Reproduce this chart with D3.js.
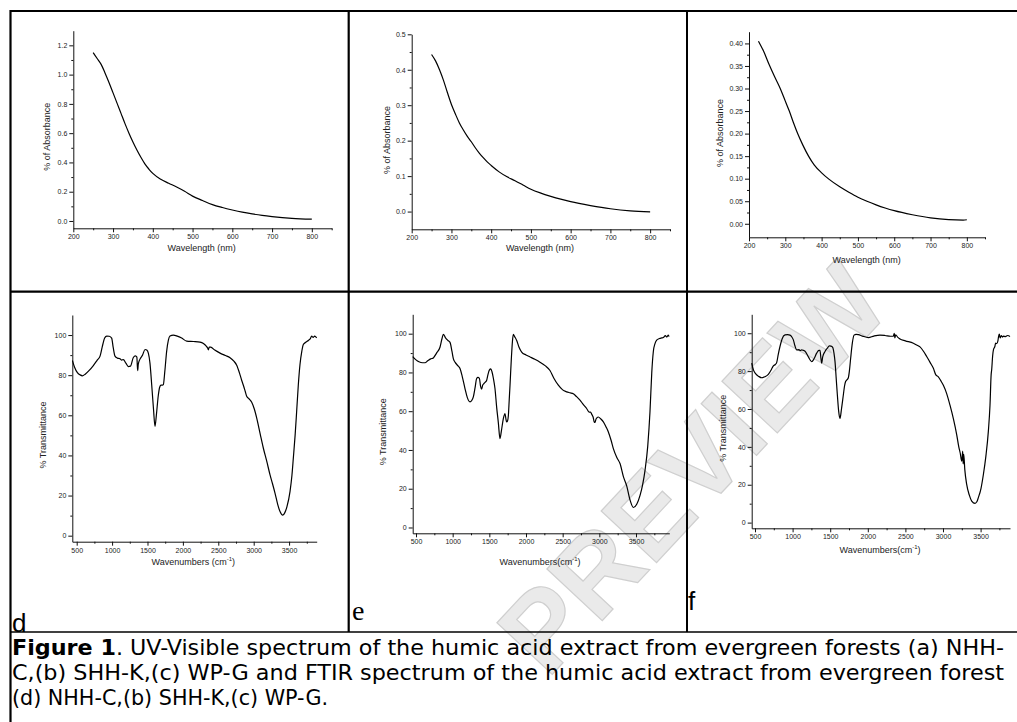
<!DOCTYPE html>
<html><head><meta charset="utf-8">
<script src="https://cdn.jsdelivr.net/npm/d3@7"></script>
<style>body{margin:0;background:#fff}svg{display:block}</style>
</head><body>
<script>
// ---------------- DATA ----------------
// UV-Vis spectra: [wavelength nm, % absorbance]
const uvA = [[250,1.15],[260,1.11],[270,1.07],[280,1.01],[290,0.945],[300,0.875],[310,0.805],[320,0.735],[330,0.665],[340,0.60],[350,0.54],[360,0.485],[370,0.435],[380,0.39],[390,0.355],[400,0.325],[420,0.285],[440,0.258],[460,0.232],[480,0.203],[500,0.17],[525,0.14],[550,0.112],[575,0.092],[600,0.075],[625,0.06],[650,0.048],[675,0.038],[700,0.03],[750,0.018],[800,0.012]];
const uvB = [[250,0.443],[260,0.425],[270,0.40],[280,0.37],[290,0.335],[300,0.302],[310,0.275],[320,0.25],[330,0.23],[340,0.212],[350,0.197],[360,0.18],[370,0.165],[380,0.152],[390,0.14],[400,0.13],[420,0.112],[440,0.098],[460,0.087],[480,0.075],[500,0.063],[525,0.052],[550,0.043],[575,0.035],[600,0.028],[650,0.017],[700,0.008],[750,0.002],[800,-0.001]];
const uvC = [[226,0.405],[240,0.383],[256,0.352],[270,0.327],[286,0.30],[300,0.272],[311,0.25],[322,0.225],[334,0.20],[348,0.175],[364,0.15],[380,0.13],[400,0.113],[420,0.099],[450,0.082],[475,0.07],[500,0.059],[525,0.05],[550,0.042],[575,0.035],[600,0.029],[650,0.02],[700,0.013],[750,0.009],[790,0.008],[800,0.009]];
// FTIR spectra: [wavenumber cm-1, % transmittance]
const irD = [[440,87.3],[470,84],[510,81.3],[547,80.2],[580,79.7],[620,80.5],[680,82.5],[735,84.8],[790,87.5],[830,89.5],[860,94],[895,98.5],[924,99.5],[960,99.4],[994,98.5],[1015,94],[1041,89.5],[1075,88.5],[1112,88.2],[1135,87.5],[1159,87.8],[1195,86],[1230,84.3],[1260,84.5],[1300,88.8],[1330,89.6],[1350,89],[1356,85],[1362,82.3],[1370,85.5],[1394,88],[1430,90],[1465,92.8],[1490,92.5],[1512,91],[1535,86],[1560,75],[1585,63],[1606,54.5],[1625,60],[1653,70],[1672,74],[1691,75],[1710,75],[1724,75.3],[1745,82],[1771,92],[1795,97.5],[1818,99.5],[1865,100],[1920,99.5],[1983,98.5],[2053,97],[2150,96.8],[2242,96.5],[2290,95.8],[2330,94.5],[2350,93.5],[2360,92.6],[2372,94],[2393,94],[2450,92.5],[2525,91],[2600,89.8],[2666,88.7],[2720,87],[2760,85],[2800,81],[2830,77.5],[2854,75],[2880,72],[2901,69.5],[2940,68],[2972,66.5],[3010,63],[3042,58.7],[3090,51],[3136,43.7],[3185,37],[3231,30.3],[3265,26],[3301,21.2],[3340,15.5],[3372,12],[3410,10.2],[3440,11.5],[3470,14.5],[3513,22],[3540,30],[3560,38.7],[3585,50],[3607,62],[3630,75],[3654,85.3],[3680,92],[3701,95.3],[3740,96.5],[3772,97.3],[3800,98.2],[3819,99.5],[3840,98.8],[3860,99.5],[3880,99],[3890,98.6]];
const irE = [[455,88.2],[500,86.5],[540,85.5],[590,85],[623,85],[660,86],[700,87],[736,87.5],[780,90],[827,93],[855,97.5],[873,99.7],[900,98],[935,96.5],[964,95.5],[990,91],[1010,87],[1032,85.3],[1070,83.5],[1100,82],[1130,78],[1168,71.7],[1200,67],[1236,64.8],[1260,65.5],[1282,67.4],[1305,72],[1327,76.9],[1345,77.5],[1364,77],[1380,73],[1395,71.4],[1410,73.5],[1427,74.3],[1445,75],[1464,76],[1482,79],[1500,81.2],[1520,81.8],[1535,80.5],[1555,77],[1577,71.7],[1600,62],[1623,54],[1645,45.9],[1665,50],[1691,56.2],[1714,58.8],[1726,56],[1736,54.5],[1748,55],[1759,57.5],[1770,65],[1782,73.4],[1800,87],[1815,96],[1827,99.7],[1845,98.5],[1873,96.5],[1905,93],[1941,90.5],[2000,89],[2055,88],[2120,86.8],[2191,85.3],[2260,83.5],[2327,81],[2380,77],[2441,73.4],[2500,71],[2555,70],[2600,69.5],[2645,69],[2690,67.5],[2736,65.7],[2780,63.5],[2827,61.4],[2860,59.5],[2880,59.5],[2895,58.5],[2915,57],[2930,54.5],[2941,54.2],[2955,56],[2986,57],[3020,56],[3055,54.5],[3090,52],[3123,49.3],[3160,45],[3191,40.7],[3240,36],[3282,33],[3330,26],[3373,21.5],[3420,14],[3464,10.3],[3510,12],[3555,16.6],[3590,22],[3623,29.5],[3660,42],[3691,60],[3715,80],[3736,90.7],[3760,95],[3782,96.7],[3820,97.5],[3850,97.8],[3873,98],[3900,99],[3920,98.3],[3941,99.3],[3950,98.5]];
const irF = [[456,84.2],[480,80.5],[510,78.5],[550,77.2],[589,76.5],[630,77],[677,78.3],[720,81],[744,82.8],[770,83.5],[788,84.5],[810,89],[832,93],[860,97],[899,99.1],[935,99.3],[965,99],[990,98],[1010,96.5],[1030,93.5],[1054,91.2],[1085,91.3],[1100,90.8],[1121,91.2],[1140,91],[1165,90.5],[1210,87.5],[1254,85],[1285,86.5],[1320,89.5],[1350,91],[1364,91],[1376,87],[1387,84.2],[1400,87.5],[1431,90.4],[1460,92],[1489,93.3],[1510,93.2],[1533,92.5],[1550,89.5],[1564,85],[1580,76],[1595,67.5],[1612,59],[1630,55],[1650,60],[1675,67.5],[1690,72],[1706,74.6],[1725,75.5],[1741,76.5],[1755,80],[1772,86.8],[1795,95],[1817,99],[1845,99.4],[1874,99.3],[1930,98.5],[2007,97.7],[2080,98.5],[2162,99],[2229,98.8],[2300,98.4],[2340,98.5],[2352,100],[2360,97.5],[2370,99.2],[2400,97.8],[2428,97],[2500,96],[2606,94.7],[2650,93.8],[2694,92.8],[2740,90.5],[2783,87.7],[2830,84.5],[2872,81.5],[2905,78],[2938,77],[2970,75],[3005,72.5],[3050,68],[3093,62],[3140,54.5],[3182,46.5],[3210,40],[3230,36.5],[3248,32.5],[3256,35],[3262,37.8],[3268,31],[3276,36],[3290,28],[3315,20.2],[3350,14.5],[3382,11.4],[3426,10.2],[3450,11],[3470,13.2],[3505,18],[3537,25.4],[3570,35],[3603,48.2],[3625,62],[3640,78],[3648,81],[3660,88],[3672,91.5],[3690,93],[3700,94.8],[3714,94.5],[3730,96],[3740,98.5],[3749,99.5],[3760,97.5],[3775,98.8],[3790,98],[3803,98.5],[3830,98.2],[3860,98.8],[3891,98.3]];

// tick values
const uvXTicks = [200,300,400,500,600,700,800];
const uvXMinor = [250,350,450,550,650,750,850];
const yTicksA = [0,0.2,0.4,0.6,0.8,1.0,1.2];
const yMinorA = [0.1,0.3,0.5,0.7,0.9,1.1];
const yTicksB = [0,0.1,0.2,0.3,0.4,0.5];
const yMinorB = [0.05,0.15,0.25,0.35,0.45];
const yTicksC = [0,0.05,0.10,0.15,0.20,0.25,0.30,0.35,0.40];
const yMinorC = [0.025,0.075,0.125,0.175,0.225,0.275,0.325,0.375];
const irXTicks = [500,1000,1500,2000,2500,3000,3500];
const irXMinor = [750,1250,1750,2250,2750,3250,3750];
const irYTicks = [0,20,40,60,80,100];
const irYMinor = [10,30,50,70,90];

const panelLetters = ["d","e","f"];
const captionLines = [
  ["Figure 1", ". UV-Visible spectrum of the humic acid extract from evergreen forests (a) NHH-"],
  ["", "C,(b) SHH-K,(c) WP-G and FTIR spectrum of the humic acid extract from evergreen forest"],
  ["", "(d) NHH-C,(b) SHH-K,(c) WP-G."]
];

// ---------------- DRAW ----------------
const W = 1017, H = 722;
const svg = d3.select("body").append("svg").attr("width", W).attr("height", H);

// watermark (light grey, underneath)
svg.append("text")
  .attr("transform", "translate(692,468) rotate(-47)")
  .attr("text-anchor", "middle").attr("dominant-baseline", "central")
  .attr("font-family", "Liberation Sans, Arial, sans-serif")
  .attr("font-size", 110).attr("font-weight", "bold")
  .attr("fill", "#eaeaea").attr("stroke", "#cfcfcf").attr("stroke-width", 1.2)
  .text("PREVIEW");

const panels = [
  {data: uvA, xDom:[200,850], yDom:[-0.05,1.3], L:73.3, R:331.7, T:30.7, B:228.3, xT:uvXTicks, xM:uvXMinor, yT:yTicksA, yM:yMinorA, xFmt:"d", yFmt:".1f",
   xTitle:"Wavelength (nm)", xtx:201.7, xty:251, yTitle:"% of Absorbance", ytx:46.7, yty:136.7},
  {data: uvB, xDom:[200,850], yDom:[-0.05,0.5], L:411.7, R:670, T:34.3, B:229.3, xT:uvXTicks, xM:uvXMinor, yT:yTicksB, yM:yMinorB, xFmt:"d", yFmt:".1f",
   xTitle:"Wavelength (nm)", xtx:540, xty:251, yTitle:"% of Absorbance", ytx:386.7, yty:140},
  {data: uvC, xDom:[200,850], yDom:[-0.03,0.426], L:749, R:985, T:31.7, B:237.3, xT:uvXTicks, xM:uvXMinor, yT:yTicksC, yM:yMinorC, xFmt:"d", yFmt:".2f",
   xTitle:"Wavelength (nm)", xtx:866.7, xty:263, yTitle:"% of Absorbance", ytx:720, yty:133},
  {data: irD, xDom:[438,3890], yDom:[-3,110], L:72.3, R:316.7, T:315, B:541.7, xT:irXTicks, xM:irXMinor, yT:irYTicks, yM:irYMinor, xFmt:"d", yFmt:"d",
   xTitle:"Wavenumbers (cm", xtx:193.3, xty:565, yTitle:"% Transmittance", ytx:43.3, yty:435},
  {data: irE, xDom:[455,3954], yDom:[-3,110], L:412.7, R:669.3, T:314.3, B:533.3, xT:irXTicks, xM:irXMinor, yT:irYTicks, yM:irYMinor, xFmt:"d", yFmt:"d",
   xTitle:"Wavenumbers(cm", xtx:540, xty:565, yTitle:"% Transmittance", ytx:383.3, yty:431.7},
  {data: irF, xDom:[456,3891], yDom:[-3,110], L:751.7, R:1010, T:314.3, B:528.3, xT:irXTicks, xM:irXMinor, yT:irYTicks, yM:irYMinor, xFmt:"d", yFmt:"d",
   xTitle:"Wavenumbers(cm", xtx:880, xty:553, yTitle:"% Transmittance", ytx:722.7, yty:428.3}
];

const tickFont = "Liberation Sans, Arial, sans-serif";

function styleAxis(sel){
  sel.selectAll("path,line").attr("stroke","#111").attr("stroke-width",1);
  sel.selectAll("text").attr("font-family",tickFont).attr("font-size",7).attr("fill","#222");
}

panels.forEach((p,i)=>{
  const x = d3.scaleLinear().domain(p.xDom).range([p.L,p.R]);
  const y = d3.scaleLinear().domain(p.yDom).range([p.B,p.T]);
  const g = svg.append("g");
  // minor ticks
  g.append("g").attr("transform",`translate(0,${p.B})`)
    .call(d3.axisBottom(x).tickValues(p.xM).tickSize(2).tickSizeOuter(0).tickFormat(""))
    .call(s=>s.select(".domain").remove()).call(styleAxis);
  g.append("g").attr("transform",`translate(${p.L},0)`)
    .call(d3.axisLeft(y).tickValues(p.yM).tickSize(2).tickSizeOuter(0).tickFormat(""))
    .call(s=>s.select(".domain").remove()).call(styleAxis);
  // major ticks
  g.append("g").attr("transform",`translate(0,${p.B})`)
    .call(d3.axisBottom(x).tickValues(p.xT).tickSize(4).tickPadding(2).tickSizeOuter(0).tickFormat(d3.format(p.xFmt)))
    .call(styleAxis);
  g.append("g").attr("transform",`translate(${p.L},0)`)
    .call(d3.axisLeft(y).tickValues(p.yT).tickSize(4).tickPadding(2).tickSizeOuter(0).tickFormat(d3.format(p.yFmt)))
    .call(styleAxis);
  // curve
  g.append("path").datum(p.data)
    .attr("fill","none").attr("stroke","#000").attr("stroke-width",1.2).attr("stroke-linejoin","round")
    .attr("d", d3.line().x(d=>x(d[0])).y(d=>y(d[1])).curve(d3.curveMonotoneX));
  // titles
  const xt = g.append("text").attr("x",p.xtx).attr("y",p.xty).attr("text-anchor","middle")
    .attr("font-family",tickFont).attr("font-size",9).attr("fill","#222");
  xt.append("tspan").text(p.xTitle);
  if (i >= 3) {
    xt.append("tspan").attr("font-size",6).attr("dy",-4).text("-1");
    xt.append("tspan").attr("dy",4).text(")");
  }
  g.append("text").attr("transform",`translate(${p.ytx},${p.yty}) rotate(-90)`)
    .attr("text-anchor","middle").attr("dominant-baseline","central")
    .attr("font-family",tickFont).attr("font-size",9).attr("fill","#222").text(p.yTitle);
});

// panel letters
svg.append("text").attr("x",12).attr("y",632).attr("font-family","Liberation Sans, Arial, sans-serif").attr("font-size",26).text(panelLetters[0]);
svg.append("text").attr("x",352).attr("y",620).attr("font-family","Liberation Serif, Times New Roman, serif").attr("font-size",28).text(panelLetters[1]);
svg.append("text").attr("x",688).attr("y",610).attr("font-family","Liberation Sans, Arial, sans-serif").attr("font-size",26).text(panelLetters[2]);

// table grid
const grid = svg.append("g").attr("stroke","#000").attr("fill","none");
grid.append("line").attr("x1",10).attr("x2",W).attr("y1",11).attr("y2",11).attr("stroke-width",2.2);
grid.append("line").attr("x1",10).attr("x2",W).attr("y1",291.7).attr("y2",291.7).attr("stroke-width",2.2);
grid.append("line").attr("x1",10).attr("x2",W).attr("y1",632).attr("y2",632).attr("stroke-width",1.3);
grid.append("line").attr("x1",10.5).attr("x2",10.5).attr("y1",10).attr("y2",H).attr("stroke-width",2.2);
grid.append("line").attr("x1",348.7).attr("x2",348.7).attr("y1",10).attr("y2",632).attr("stroke-width",2.2);
grid.append("line").attr("x1",687).attr("x2",687).attr("y1",10).attr("y2",632).attr("stroke-width",2);

// caption
const capWidths = [992, 992, 316];
const capBase = [655, 680, 705];
captionLines.forEach((ln,i)=>{
  const t = svg.append("text").attr("x",12).attr("y",capBase[i])
    .attr("font-family","DejaVu Sans Condensed, Liberation Sans Narrow, DejaVu Sans, sans-serif")
    .attr("font-stretch","condensed")
    .attr("font-size",21).attr("fill","#000")
    .attr("textLength",capWidths[i]).attr("lengthAdjust","spacingAndGlyphs");
  if (ln[0]) t.append("tspan").attr("font-weight","bold").text(ln[0]);
  t.append("tspan").text(ln[1]);
});
</script>
</body></html>
